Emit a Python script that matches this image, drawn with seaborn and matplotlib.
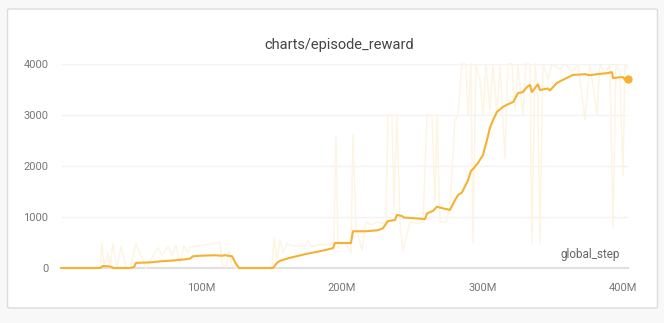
import numpy as np
import pandas as pd
import matplotlib
matplotlib.use("Agg")
import matplotlib.pyplot as plt
import seaborn as sns
from matplotlib.patches import FancyBboxPatch

# ---- data (steps in millions) ----
raw_steps = [0, 27.8, 29.2, 30.6, 33.5, 34.9, 37.0, 39.9, 42.7, 46.3, 49.1, 53.4, 57.7, 60.5,
             69.0, 71.9, 76.2, 79.0, 81.9, 84.7, 87.5, 90.4, 91.8, 113.2, 114.6, 117.4, 119.6,
             121.7, 124.6, 150.2, 151.6, 153.7, 155.9, 158.0, 160.9, 163.0, 173.7, 175.8, 177.9,
             184.3, 194.3, 195.7, 197.2, 202.1, 206.4, 207.8, 210.0, 214.2, 217.1, 221.4, 225.6,
             231.3, 232.7, 235.6, 237.0, 239.1, 241.3, 243.4, 248.4, 254.1, 257.7, 260.5, 264.1,
             266.2, 267.6, 269.8, 274.0, 276.9, 280.4, 282.6, 285.4, 288.3, 289.7, 291.8, 293.2,
             295.4, 298.2, 300.4, 302.5, 305.3, 307.5, 310.3, 312.5, 316.0, 318.1, 321.0, 323.1,
             325.3, 328.8, 331.0, 333.8, 335.2, 337.4, 339.5, 340.9, 343.1, 346.6, 349.5, 355.2,
             358.7, 363.7, 368.0, 373.0, 376.5, 381.5, 383.6, 387.2, 390.7, 392.9, 395.0, 397.9,
             400.0, 401.4, 403.6]
raw_values = [0, 0, 490, 50, 300, 0, 480, 0, 420, 30, 0, 480, 200, 0,
              400, 250, 420, 250, 450, 100, 430, 300, 410, 500, 100, 0, 340,
              50, 0, 0, 590, 150, 560, 300, 480, 440, 430, 540, 420,
              460, 460, 2580, 400, 500, 300, 2600, 800, 350, 900, 850, 900,
              850, 3000, 3000, 1200, 3000, 900, 330, 900, 880, 900, 3000, 3000,
              1300, 3000, 900, 900, 1200, 2900, 3000, 4000, 4000, 3000, 4000, 500,
              4000, 3700, 3000, 4000, 3100, 4000, 3000, 4000, 2150, 4000, 4000, 3100,
              4000, 3000, 4000, 4000, 500, 4000, 3300, 500, 4000, 3700, 4000, 3900,
              4000, 3850, 4000, 2900, 4000, 3000, 4000, 3800, 4000, 780, 4000, 3850,
              1800, 4000, 3900]

smooth_steps = [0, 27.8, 29.9, 34.9, 37.7, 49.1, 52.0, 53.4, 63.3, 70.5, 81.1, 88.3, 91.8, 94.0,
                98.9, 109.6, 114.6, 116.7, 121.7, 124.6, 126.7, 150.9, 153.7, 155.9, 163.0,
                173.7, 180.8, 187.9, 193.6, 195.0, 206.4, 207.8, 216.4, 225.6, 229.2, 232.7,
                237.7, 239.1, 242.7, 244.1, 259.1, 260.5, 264.8, 267.6, 273.3, 276.9, 280.4,
                282.6, 285.4, 287.5, 289.7, 291.8, 293.9, 296.8, 300.4, 303.2, 305.3, 307.5,
                310.3, 314.6, 317.4, 321.9, 325.3, 328.8, 331.7, 333.8, 335.2, 337.4, 339.5,
                340.9, 346.6, 348.0, 353.0, 357.3, 364.4, 373.0, 376.5, 381.5, 388.6, 392.2,
                392.9, 400.0, 401.4, 403.6]
smooth_values = [0, 0, 40, 30, 0, 0, 20, 100, 110, 130, 150, 170, 185, 230,
                 240, 250, 240, 250, 230, 80, 0, 0, 100, 140, 200,
                 270, 310, 350, 390, 490, 490, 720, 720, 740, 780, 920,
                 940, 1040, 1020, 990, 960, 1070, 1120, 1200, 1160, 1140, 1330,
                 1430, 1480, 1600, 1720, 1900, 1960, 2060, 2215, 2510, 2745, 2900,
                 3060, 3160, 3200, 3255, 3430, 3450, 3550, 3590, 3450, 3530, 3600,
                 3490, 3520, 3480, 3630, 3690, 3785, 3800, 3780, 3800, 3820, 3840,
                 3725, 3745, 3690, 3710]

x_ticks = [100, 200, 300, 400]
x_tick_labels = ["100M", "200M", "300M", "400M"]
y_ticks = [0, 1000, 2000, 3000, 4000]

raw_df = pd.DataFrame({"step": np.array(raw_steps) * 1e6, "value": raw_values})
smooth_df = pd.DataFrame({"step": np.array(smooth_steps) * 1e6, "value": smooth_values})

sns.set_style("white")
plt.rcParams["font.family"] = ["Roboto", "DejaVu Sans"]

W, H = 664, 323
fig = plt.figure(figsize=(W / 100, H / 100), dpi=100)
fig.patch.set_facecolor("#f8f8f8")

panel = FancyBboxPatch((7.5 / W, (H - 308) / H), 650 / W, 299 / H,
                       boxstyle="round,pad=0,rounding_size=0.004",
                       transform=fig.transFigure, facecolor="white",
                       edgecolor="#dcdcdc", linewidth=1.0, zorder=-5)
fig.patches.append(panel)

x0, x1 = 61, 628
y_top, y_bot = 64, 268
ax = fig.add_axes([x0 / W, (H - y_bot) / H, (x1 - x0) / W, (y_bot - y_top) / H])
ax.set_zorder(2)
ax.set_facecolor("none")

orange = "#f5b131"
sns.lineplot(data=raw_df, x="step", y="value", ax=ax, color="#fdf4e2",
             linewidth=1.0, estimator=None, sort=False, clip_on=False, zorder=2)
sns.lineplot(data=smooth_df, x="step", y="value", ax=ax, color=orange,
             linewidth=1.5, estimator=None, sort=False, clip_on=False, zorder=3)
ax.plot([smooth_df["step"].iloc[-1]], [smooth_df["value"].iloc[-1]], "o",
        color=orange, markersize=5, clip_on=False, zorder=4)

ax.set_xlim(0, smooth_steps[-1] * 1e6)
ax.set_ylim(0, 4000)
ax.set_xticks(np.array(x_ticks) * 1e6)
ax.set_xticklabels(x_tick_labels)
ax.set_yticks(y_ticks)
ax.set_yticklabels([str(v) for v in y_ticks])

for s in ["top", "right", "left"]:
    ax.spines[s].set_visible(False)
ax.spines["bottom"].set_color("#e0e0e0")
ax.spines["bottom"].set_linewidth(1.5)
ax.spines["bottom"].set_zorder(1)

ax.tick_params(axis="x", direction="inout", length=10, width=1, color="#e0e0e0",
               labelsize=8, labelcolor="#777777", pad=6)
ax.tick_params(axis="y", length=0, labelsize=8, labelcolor="#777777", pad=9)
ax.grid(axis="y", color="#f3f3f3", linewidth=1)
ax.grid(axis="x", visible=False)
ax.set_axisbelow(True)
ax.set_xlabel("")
ax.set_ylabel("")

ax.text(0.985, 0.035, "global_step", transform=ax.transAxes, ha="right", va="bottom",
        fontsize=8.5, color="#666666")
fig.text(339 / W, (H - 45) / H, "charts/episode_reward", ha="center", va="center",
         fontsize=10.5, color="#444444")

fig.savefig("out.png", dpi=100, facecolor=fig.get_facecolor())
